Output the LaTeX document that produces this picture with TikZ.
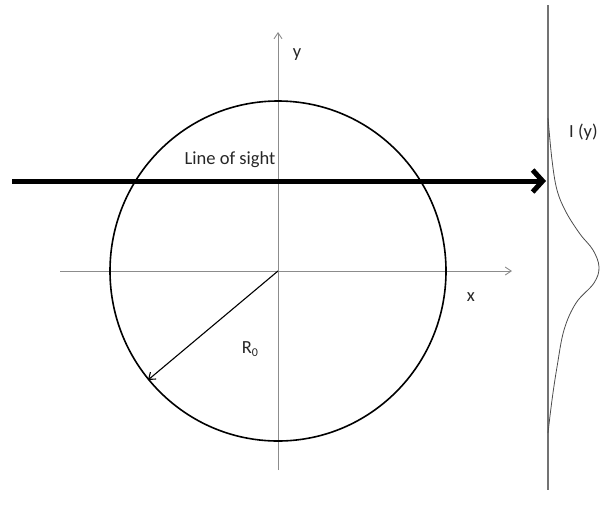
\documentclass[tikz,border=0pt]{standalone}
\usepackage{fontspec}
\setmainfont{Carlito}
\usetikzlibrary{arrows.meta}
\begin{document}
\begin{tikzpicture}[x=1pt,y=-1pt,
  axis/.style={draw=black!45, line width=0.9pt, -{Straight Barb[length=6pt,width=8pt]}},
  lbl/.style={font=\fontsize{18.5}{20}\selectfont, text=black!85, inner sep=0pt},
  los/.style={line width=5pt, -{Straight Barb[length=10pt,width=22pt]}},
  rad/.style={line width=1.1pt, -{Straight Barb[length=6pt,width=9pt]}},
  prof/.style={draw=black!70, line width=0.8pt}]
\useasboundingbox (0,0) rectangle (600,504);
% coordinates
\coordinate (O) at (278,271);
\coordinate (xs) at (60,271);
\coordinate (xe) at (512,271);
\coordinate (ys) at (278,470);
\coordinate (ye) at (278,32);
\coordinate (ls) at (12,181);
\coordinate (le) at (546,181);
\coordinate (rs) at (548,5);
\coordinate (re) at (548,490);
\coordinate (rp) at (148,380);
% axes
\draw[axis] (xs) -- (xe);
\draw[axis] (ys) -- (ye);
% circle
\draw[line width=1.6pt] (O) ellipse [x radius=168, y radius=170];
% radius
\draw[rad] (O) -- (rp);
% screen line
\draw[draw=black!55, line width=1.2pt] (rs) -- (re);
% line of sight
\draw[los] (ls) -- (le);
% profile
\draw[prof] plot[smooth, tension=0.6] coordinates {(548,118) (552,160) (557,190) (566,212) (580,234) (593,250) (599,267) (594,283) (576,303) (564,330) (557,367) (552,400) (548,433)};
% labels
\node[lbl] (ylab) at (297,55) {y};
\node[lbl] (xlab) at (471,297) {x};
\node[lbl] (rlab) at (250,349) {R\raisebox{-0.35ex}{\fontsize{12}{13}\selectfont 0}};
\node[lbl] (loslab) at (230,160) {Line of sight};
\node[lbl, anchor=west] (ilab) at (569,132) {I (y)};
\end{tikzpicture}
\end{document}
